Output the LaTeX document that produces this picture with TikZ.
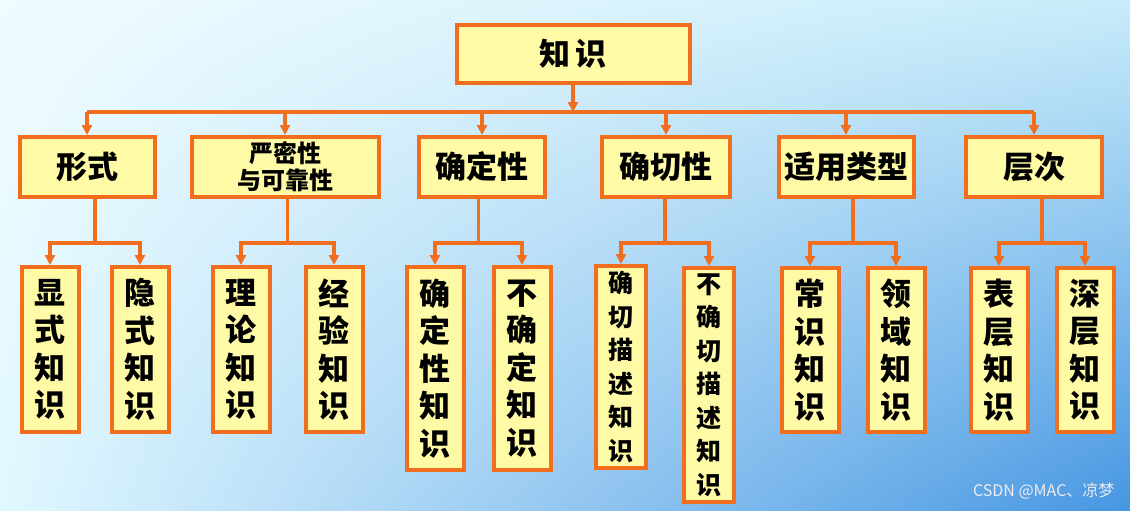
\documentclass[tikz,border=0pt]{standalone}
\usepackage{fontspec}
\newfontfamily\cjk{Noto Sans CJK SC}
\usetikzlibrary{arrows.meta,shadings,calc}
\definecolor{boxline}{RGB}{240,110,30}
\definecolor{boxfill}{RGB}{255,250,165}
\definecolor{bgul}{RGB}{240,252,255}
\definecolor{bgur}{RGB}{200,236,250}
\definecolor{bgll}{RGB}{225,248,255}
\definecolor{bglr}{RGB}{70,150,226}
\tikzset{
  box/.style={draw=boxline, line width=4pt, fill=boxfill, inner sep=0pt, font=\cjk\bfseries\fontsize{31}{34}\selectfont, align=center},
  vbox/.style={box, anchor=north, minimum width=57pt, font=\cjk\bfseries\fontsize{31}{37.5}\selectfont},
  nbox/.style={box, anchor=north, minimum width=50pt, font=\cjk\bfseries\fontsize{25}{33.5}\selectfont},
  line/.style={draw=boxline, line width=3.5pt},
  arr/.style={line, -{Triangle[length=10pt,width=10pt]}},
}
\begin{document}
\begin{tikzpicture}[x=1pt,y=-1pt]
  % background
  \shade[upper left=bgul, upper right=bgur, lower left=bgll, lower right=bglr]
        (0,0) rectangle (1130,511);
  \useasboundingbox (0,0) rectangle (1130,511);
  % root
  \node[box, minimum width=233pt, minimum height=58pt] (zs) at (573,54) {知\,识};
  % second row
  \node[box, minimum width=135pt, minimum height=60pt] (xs) at (87,167) {形式};
  \node[box, minimum width=187pt, minimum height=60pt, font=\cjk\bfseries\fontsize{24}{27}\selectfont] (ym) at (285,167) {严密性\\与可靠性};
  \node[box, minimum width=126pt, minimum height=60pt] (qd) at (482,167) {确定性};
  \node[box, minimum width=128pt, minimum height=60pt] (qq) at (666,167) {确切性};
  \node[box, minimum width=135pt, minimum height=60pt] (sy) at (846,167) {适用类型};
  \node[box, minimum width=136pt, minimum height=60pt] (cc) at (1034,167) {层次};
  % third row
  \node[vbox, minimum height=165pt] (xian) at (50,265) {显\\式\\知\\识};
  \node[vbox, minimum height=165pt] (yin) at (140,265) {隐\\式\\知\\识};
  \node[vbox, minimum height=165pt] (ll) at (241,265) {理\\论\\知\\识};
  \node[vbox, minimum height=165pt] (jy) at (334,265) {经\\验\\知\\识};
  \node[vbox, minimum height=203pt] (qdz) at (435,265) {确\\定\\性\\知\\识};
  \node[vbox, minimum height=203pt] (bqd) at (522,265) {不\\确\\定\\知\\识};
  \node[nbox, minimum height=202pt] (qms) at (621,264) {确\\切\\描\\述\\知\\识};
  \node[nbox, minimum height=234pt] (bqm) at (709,266) {不\\确\\切\\描\\述\\知\\识};
  \node[vbox, minimum height=164pt] (cs) at (810,266) {常\\识\\知\\识};
  \node[vbox, minimum height=164pt] (ly) at (896,266) {领\\域\\知\\识};
  \node[vbox, minimum height=164pt] (bc) at (999,266) {表\\层\\知\\识};
  \node[vbox, minimum height=164pt] (sc) at (1085,266) {深\\层\\知\\识};
  % connectors
  \coordinate (bus) at (0,112);
  \draw[arr] (zs.south) -- (zs.south |- bus);
  \draw[line] (xs.north |- bus) -- (cc.north |- bus);
  \foreach \n in {xs,ym,qd,qq,sy,cc}
    \draw[arr] (\n.north |- bus) -- (\n.north);
  \coordinate (sub) at (0,243);
  \foreach \p/\a/\b in {xs/xian/yin, ym/ll/jy, qd/qdz/bqd, qq/qms/bqm, sy/cs/ly, cc/bc/sc}{
    \coordinate (m) at ($(\a.north)!0.5!(\b.north)$);
    \draw[line] (m |- \p.south) -- (m |- sub);
    \draw[arr] (m |- sub) -| (\a.north);
    \draw[arr] (m |- sub) -| (\b.north);
  }
  % watermark
  \node[text=white!85!gray, font=\cjk\fontsize{16}{18}\selectfont, anchor=south east] (wm) at (1118,503) {CSDN @MAC、凉梦};
\end{tikzpicture}
\end{document}
